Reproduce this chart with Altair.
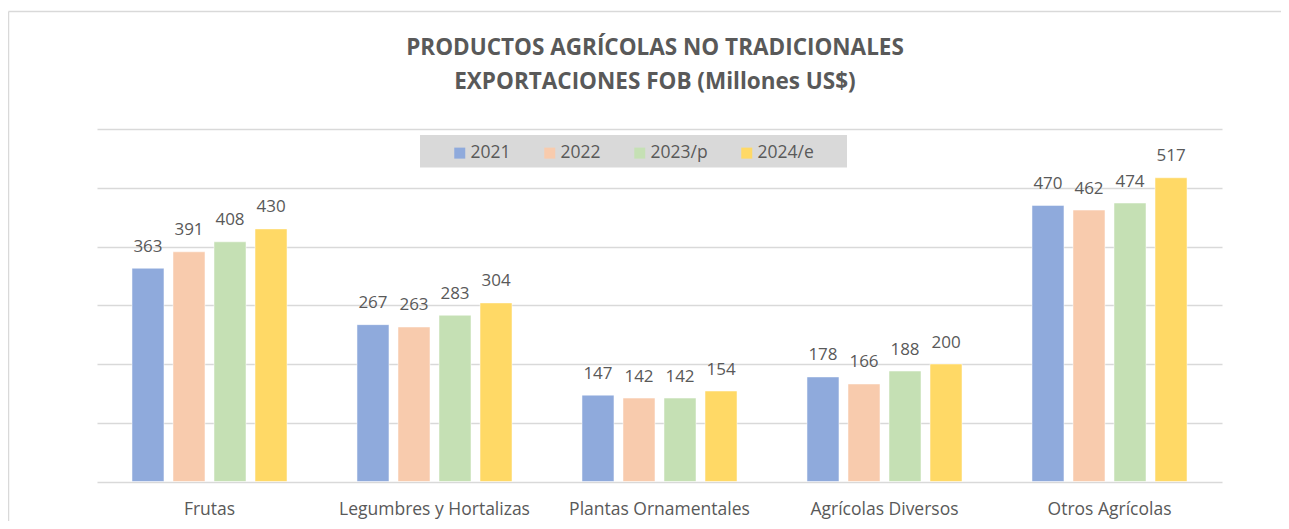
import altair as alt
import pandas as pd

categories = ["Frutas", "Legumbres y Hortalizas", "Plantas Ornamentales", "Agrícolas Diversos", "Otros Agrícolas"]
series = ["2021", "2022", "2023/p", "2024/e"]
v2021 = [363, 267, 147, 178, 470]
v2022 = [391, 263, 142, 166, 462]
v2023 = [408, 283, 142, 188, 474]
v2024 = [430, 304, 154, 200, 517]
colors = ["#8FAADC", "#F8CBAD", "#C5E0B4", "#FFD966"]
grid_values = [0, 100, 200, 300, 400, 500, 600]
title_lines = ["PRODUCTOS AGRÍCOLAS NO TRADICIONALES", "EXPORTACIONES FOB (Millones US$)"]

rows = []
for s, vals in zip(series, [v2021, v2022, v2023, v2024]):
    for c, v in zip(categories, vals):
        rows.append({"Categoria": c, "Serie": s, "Valor": v})
df = pd.DataFrame(rows)

FONT = "Open Sans"
TXT = "#595959"

x = alt.X("Categoria:N", sort=categories,
          scale=alt.Scale(paddingInner=0.311, paddingOuter=0.1555),
          axis=alt.Axis(title=None, labelAngle=0, domain=False, ticks=False, tickSize=0, labelLimit=0,
                        labelPadding=19, labelFontSize=17.5, labelColor=TXT, labelFont=FONT))
xo = alt.XOffset("Serie:N", sort=series, scale=alt.Scale(paddingInner=0.22, paddingOuter=0))
y = alt.Y("Valor:Q", scale=alt.Scale(domain=[0, 600], nice=False),
          axis=alt.Axis(title=None, labels=False, ticks=False, domain=False, values=grid_values,
                        gridColor="#D9D9D9", gridWidth=1.3))
color = alt.Color("Serie:N", sort=series, scale=alt.Scale(domain=series, range=colors),
                  legend=alt.Legend(title=None, orient="none", legendX=354, legendY=15,
                                    direction="horizontal", symbolType="square", symbolSize=121,
                                    symbolStrokeWidth=0, labelFontSize=17.5, labelFont=FONT,
                                    labelColor=TXT, columnPadding=30, labelOffset=2))

one = alt.Data(values=[{}])
frame_left = alt.Chart(one).mark_rule(color="#D9D9D9", strokeWidth=1.5).encode(
    x=alt.value(-88.5), y=alt.value(-117.5), y2=alt.value(400))
frame_top = alt.Chart(one).mark_rule(color="#D9D9D9", strokeWidth=1.5).encode(
    x=alt.value(-88.5), x2=alt.value(1200), y=alt.value(-117.5))
legend_box = alt.Chart(one).mark_rect(color="#D9D9D9").encode(
    x=alt.value(323), x2=alt.value(750), y=alt.value(6), y2=alt.value(38.5))

title1 = alt.Chart(alt.Data(values=[{"t": title_lines[0]}])).mark_text(
    fontSize=22.5, font=FONT, fontWeight="bold", color=TXT, align="center", baseline="alphabetic").encode(
    text="t:N", x=alt.value(558), y=alt.value(-74))
title2 = alt.Chart(alt.Data(values=[{"t": title_lines[1]}])).mark_text(
    fontSize=22.5, font=FONT, fontWeight="bold", color=TXT, align="center", baseline="alphabetic").encode(
    text="t:N", x=alt.value(558), y=alt.value(-40))

bars = alt.Chart(df).mark_bar(stroke="white", strokeWidth=0.5).encode(x=x, xOffset=xo, y=y, color=color)
labels = alt.Chart(df).mark_text(dy=-16.5, baseline="alphabetic", fontSize=17, font=FONT, color=TXT).encode(
    x=x, xOffset=xo, y=y, text="Valor:Q")

chart = alt.layer(frame_left, frame_top, legend_box, title1, title2, bars, labels).properties(
    width=1125, height=352.5,
    autosize=alt.AutoSizeParams(type="none"),
    padding={"left": 89, "top": 121, "right": 59, "bottom": 39},
    background="white",
).configure_view(stroke=None)

chart.save("out.html", embed_options={"renderer": "svg", "actions": False})
